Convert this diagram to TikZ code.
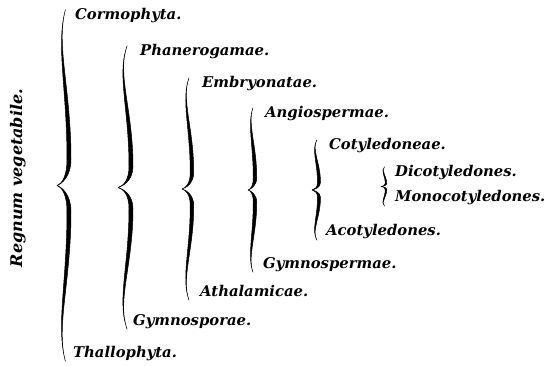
\documentclass[tikz,border=0pt]{standalone}
\usepackage{fontspec}
\setmainfont{DejaVu Serif}
\usepackage{tikz}
\usetikzlibrary{calc}
\tikzset{
  taxon/.style={anchor=west, inner sep=0pt, text height=10pt, text depth=4pt,
                font=\fontsize{14.8}{18}\selectfont\bfseries\itshape},
  root/.style={taxon, anchor=center, rotate=90,
               font=\fontsize{16}{19}\selectfont\bfseries\itshape},
  brc/.style={fill=black, draw=black, line width=0.5pt, line join=round},
}
% #1 upper node, #2 lower node, #3 tip x, #4 width, #5 thickness
\newcommand{\curlybr}[5]{%
  \filldraw[brc] let \p1=(#1.north), \p2=(#2.south),
      \n1={(\y1+\y2)/2}, \n2={(\y1-\y2)/2} in
    ({(#3+0.7*#4)*1pt},\y1)
    .. controls ({(#3-0.1*#4)*1pt},{\y1-0.2*\n2*1pt}) and ({(#3+#4-#5/2)*1pt},{\y1-0.45*\n2*1pt})
    .. ({(#3+#4-#5/2)*1pt},{\y1-0.85*\n2*1pt})
    .. controls ({(#3+#4-#5/2)*1pt},{(\n1+0.05*\n2)*1pt}) and ({(#3+0.4*#4)*1pt},{(\n1+0.01*\n2)*1pt})
    .. ({#3*1pt},{\n1*1pt})
    .. controls ({(#3+0.4*#4)*1pt},{(\n1-0.01*\n2)*1pt}) and ({(#3+#4-#5/2)*1pt},{(\n1-0.05*\n2)*1pt})
    .. ({(#3+#4-#5/2)*1pt},{\y2+0.85*\n2*1pt})
    .. controls ({(#3+#4-#5/2)*1pt},{\y2+0.45*\n2*1pt}) and ({(#3-0.1*#4)*1pt},{\y2+0.2*\n2*1pt})
    .. ({(#3+0.7*#4)*1pt},\y2)
    .. controls ({(#3-0.1*#4)*1pt},{\y2+0.2*\n2*1pt}) and ({(#3+#4+#5/2)*1pt},{\y2+0.45*\n2*1pt})
    .. ({(#3+#4+#5/2)*1pt},{\y2+0.85*\n2*1pt})
    .. controls ({(#3+#4+#5/2)*1pt},{(\n1-0.05*\n2)*1pt}) and ({(#3+0.4*#4)*1pt},{(\n1-0.01*\n2)*1pt})
    .. ({#3*1pt},{\n1*1pt})
    .. controls ({(#3+0.4*#4)*1pt},{(\n1+0.01*\n2)*1pt}) and ({(#3+#4+#5/2)*1pt},{(\n1+0.05*\n2)*1pt})
    .. ({(#3+#4+#5/2)*1pt},{\y1-0.85*\n2*1pt})
    .. controls ({(#3+#4+#5/2)*1pt},{\y1-0.45*\n2*1pt}) and ({(#3-0.1*#4)*1pt},{\y1-0.2*\n2*1pt})
    .. ({(#3+0.7*#4)*1pt},\y1) -- cycle;
}

\begin{document}
\begin{tikzpicture}[x=1pt, y=-1pt]
  \useasboundingbox (0,0) rectangle (546,366);

  % --- root ---
  \node[root] (regnum) at (19,178) {Regnum vegetabile.};

  % --- upper branches ---
  \node[taxon] (corm) at (75,17)  {Cormophyta.};
  \node[taxon] (phan) at (140,53) {Phanerogamae.};
  \node[taxon] (embr) at (202,85) {Embryonatae.};
  \node[taxon] (angi) at (265,115) {Angiospermae.};
  \node[taxon] (coty) at (329,147) {Cotyledoneae.};
  \node[taxon] (dico) at (395,174) {Dicotyledones.};

  % --- lower branches ---
  \node[taxon] (mono) at (395,199) {Monocotyledones.};
  \node[taxon] (acot) at (326,233) {Acotyledones.};
  \node[taxon] (gysp) at (263,265) {Gymnospermae.};
  \node[taxon] (atha) at (200,293) {Athalamicae.};
  \node[taxon] (gypo) at (133,322) {Gymnosporae.};
  \node[taxon] (thal) at (73,354)  {Thallophyta.};

  % --- braces ---
  \curlybr{corm}{thal}{57}{12}{4}
  \curlybr{phan}{gypo}{118}{13}{4}
  \curlybr{embr}{atha}{182}{10}{3.5}
  \curlybr{angi}{gysp}{248}{7}{3.5}
  \curlybr{coty}{acot}{312}{7}{3}
  \curlybr{dico}{mono}{381}{5}{1.5}
\end{tikzpicture}
\end{document}
